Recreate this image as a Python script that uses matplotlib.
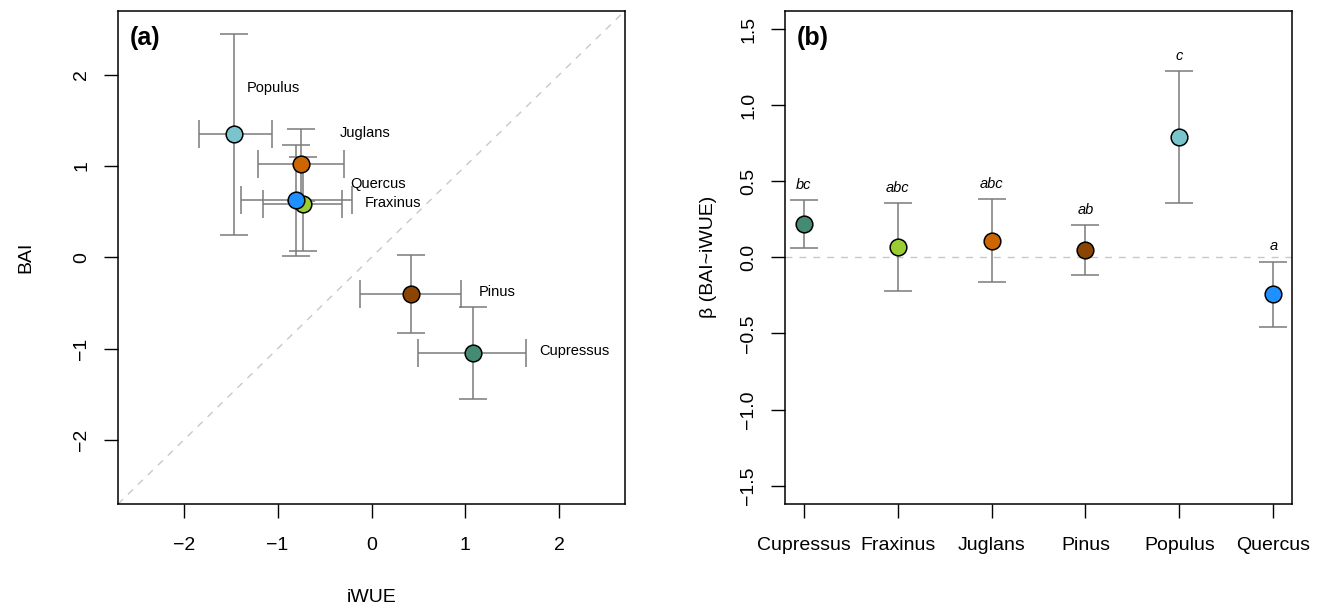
import numpy as np
import matplotlib
matplotlib.use("Agg")
import matplotlib.pyplot as plt

plt.rcParams['font.family'] = ['Liberation Sans', 'DejaVu Sans']

#%%
# Data
species = ["Cupressus", "Fraxinus", "Juglans", "Pinus", "Populus", "Quercus"]
colors = ["#458B74", "#9ACD32", "#CD6600", "#8B4500", "#7AC5CD", "#1E90FF"]

# panel (a): standardised iWUE vs BAI with CI
iwue = [1.08, -0.73, -0.75, 0.42, -1.46, -0.80]
iwue_lo = [0.50, -1.16, -1.21, -0.12, -1.84, -1.39]
iwue_hi = [1.65, -0.31, -0.29, 0.95, -1.06, -0.21]
bai = [-1.05, 0.58, 1.02, -0.40, 1.35, 0.63]
bai_lo = [-1.55, 0.07, 0.62, -0.83, 0.25, 0.02]
bai_hi = [-0.54, 1.10, 1.41, 0.03, 2.44, 1.23]

# label positions in panel (a)
lab_x = [1.79, -0.07, -0.34, 1.14, -1.33, -0.23]
lab_y = [-1.03, 0.60, 1.36, -0.38, 1.85, 0.80]

# panel (b): slope BAI~iWUE with CI and group letters
beta = [0.22, 0.07, 0.11, 0.05, 0.79, -0.24]
beta_lo = [0.06, -0.22, -0.16, -0.115, 0.36, -0.46]
beta_hi = [0.376, 0.356, 0.384, 0.21, 1.222, -0.028]
letters = ["bc", "abc", "abc", "ab", "c", "a"]

#%%
fig = plt.figure(figsize=(13.2, 6.11), dpi=100)
ax1 = fig.add_axes([0.0894, 0.1751, 0.3841, 0.8074])
ax2 = fig.add_axes([0.5947, 0.1751, 0.3841, 0.8074])

err_kw = dict(fmt='none', ecolor='#7A7A7A', elinewidth=1.1, capsize=10, capthick=1.1)
dash_col = '#C8C8C8'

# (a)
iwue_a = np.array(iwue)
bai_a = np.array(bai)
ax1.axline((0, 0), slope=1, color=dash_col, lw=1, dashes=(5, 5), zorder=1)
xerr = [iwue_a - np.array(iwue_lo), np.array(iwue_hi) - iwue_a]
yerr = [bai_a - np.array(bai_lo), np.array(bai_hi) - bai_a]
ax1.errorbar(iwue_a, bai_a, xerr=xerr, yerr=yerr, zorder=2, **err_kw)
for i in range(len(species)):
    ax1.plot(iwue[i], bai[i], 'o', ms=12, mfc=colors[i], mec='black', mew=1.1, zorder=3)
    ax1.text(lab_x[i], lab_y[i], species[i], fontsize=10.5, ha='left', va='center')
ax1.set_xlim(-2.7, 2.7)
ax1.set_ylim(-2.7, 2.7)
ax1.set_xticks([-2, -1, 0, 1, 2])
ax1.set_yticks([-2, -1, 0, 1, 2])
ax1.set_xlabel("iWUE", fontsize=14)
ax1.set_ylabel("BAI", fontsize=14)
ax1.xaxis.set_label_coords(0.5, -0.172)
ax1.yaxis.set_label_coords(-0.165, 0.5)
ax1.text(0.024, 0.945, "(a)", transform=ax1.transAxes, fontsize=18, fontweight='bold',
         ha='left', va='center')

# (b)
xpos = np.arange(1, len(species) + 1)
beta_a = np.array(beta)
berr = [beta_a - np.array(beta_lo), np.array(beta_hi) - beta_a]
ax2.axhline(0, color=dash_col, lw=1, dashes=(5, 5), zorder=1)
ax2.errorbar(xpos, beta_a, yerr=berr, zorder=2, **err_kw)
for i in range(len(species)):
    ax2.plot(xpos[i], beta[i], 'o', ms=12, mfc=colors[i], mec='black', mew=1.1, zorder=3)
    ax2.text(xpos[i], beta_hi[i] + 0.1, letters[i], fontsize=10.5, style='italic',
             ha='center', va='center')
ax2.set_xlim(0.8, 6.2)
ax2.set_ylim(-1.62, 1.62)
ax2.set_xticks(xpos)
ax2.set_xticklabels(species)
ax2.set_yticks([-1.5, -1.0, -0.5, 0.0, 0.5, 1.0, 1.5])
ax2.set_ylabel("β (BAI~iWUE)", fontsize=14)
ax2.yaxis.set_label_coords(-0.135, 0.5)
ax2.text(0.024, 0.945, "(b)", transform=ax2.transAxes, fontsize=18, fontweight='bold',
         ha='left', va='center')

for ax in (ax1, ax2):
    for s in ax.spines.values():
        s.set_linewidth(1.1)
    ax.tick_params(length=10, width=1.0, labelsize=14, pad=14)
    ax.tick_params(axis='y', labelrotation=90, pad=10)
    for lab in ax.get_yticklabels():
        lab.set_va('center')

fig.savefig("out.png", dpi=100)
